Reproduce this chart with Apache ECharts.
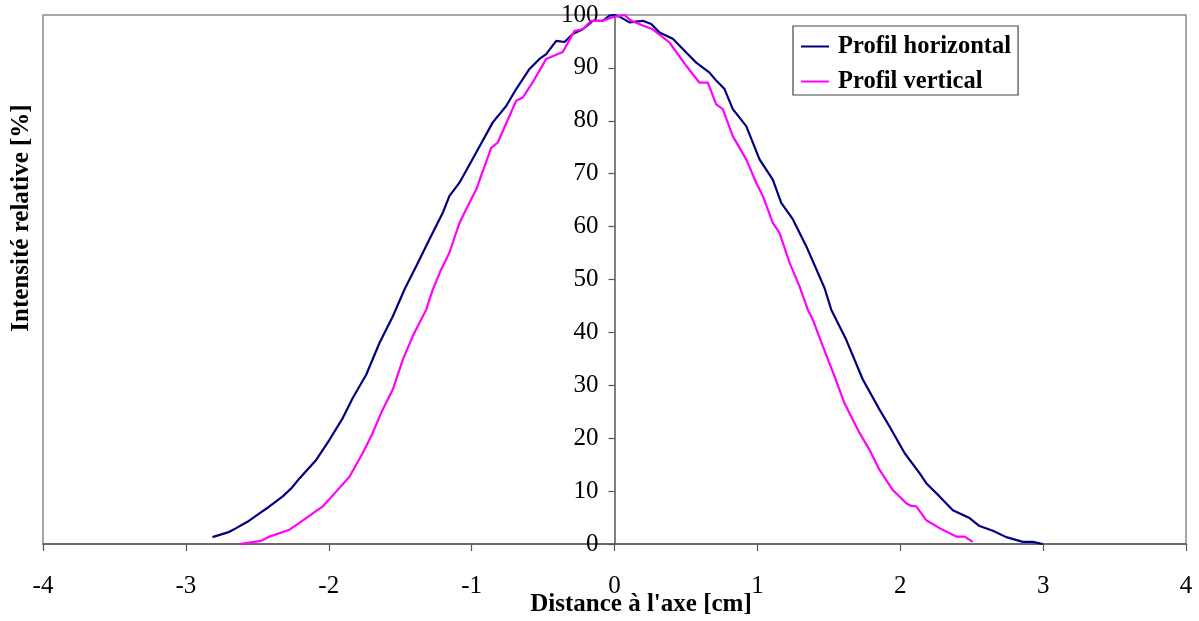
<!DOCTYPE html>
<html>
<head>
<meta charset="utf-8">
<script src="https://cdn.jsdelivr.net/npm/echarts@6/dist/echarts.min.js"></script>
<style>
  html, body { margin: 0; padding: 0; background: #fff; }
  #chart { width: 1199px; height: 621px; }
</style>
</head>
<body>
<div id="chart"></div>
<script>
// Profil horizontal: [distance (cm), intensité (%)]
const profilHorizontal = [
  [-2.814, 1.3], [-2.695, 2.3], [-2.648, 3.0], [-2.569, 4.2], [-2.485, 5.8],
  [-2.420, 7.0], [-2.322, 9.0], [-2.260, 10.6], [-2.205, 12.4], [-2.088, 15.9],
  [-1.995, 19.7], [-1.902, 23.8], [-1.832, 27.6], [-1.738, 32.0], [-1.645, 38.0],
  [-1.552, 43.0], [-1.470, 48.1], [-1.435, 50.0], [-1.388, 52.5], [-1.295, 57.6],
  [-1.202, 62.6], [-1.155, 65.8], [-1.085, 68.3], [-0.968, 74.0], [-0.852, 79.7],
  [-0.758, 82.8], [-0.688, 86.0], [-0.595, 89.8], [-0.525, 91.7], [-0.478, 92.6],
  [-0.408, 95.1], [-0.350, 94.9], [-0.292, 96.4], [-0.222, 97.3], [-0.152, 98.9],
  [-0.082, 98.9], [-0.035, 99.9], [0.000, 100.0], [0.035, 99.7], [0.105, 98.6],
  [0.198, 98.9], [0.257, 98.3], [0.315, 96.7], [0.408, 95.5], [0.502, 92.9],
  [0.572, 91.0], [0.665, 89.1], [0.712, 87.6], [0.770, 86.0], [0.828, 82.2],
  [0.922, 79.0], [1.015, 72.7], [1.108, 68.9], [1.167, 64.5], [1.248, 61.4],
  [1.342, 56.3], [1.470, 48.4], [1.517, 44.3], [1.622, 38.6], [1.738, 31.1],
  [1.855, 25.4], [1.925, 22.2], [2.030, 17.2], [2.135, 13.4], [2.182, 11.5],
  [2.275, 9.0], [2.368, 6.4], [2.485, 4.9], [2.555, 3.4], [2.648, 2.5],
  [2.742, 1.3], [2.858, 0.4], [2.928, 0.4], [2.998, 0.0]
];

// Profil vertical: [distance (cm), intensité (%)]
const profilVertical = [
  [-2.624, 0.0], [-2.473, 0.6], [-2.415, 1.4], [-2.275, 2.7], [-2.205, 4.0],
  [-2.112, 5.8], [-2.042, 7.1], [-1.948, 9.9], [-1.855, 12.7], [-1.762, 17.2],
  [-1.692, 21.0], [-1.633, 24.8], [-1.552, 29.2], [-1.482, 34.8], [-1.412, 39.3],
  [-1.318, 44.3], [-1.272, 48.1], [-1.213, 51.9], [-1.155, 55.1], [-1.085, 60.7],
  [-1.038, 63.3], [-0.968, 67.0], [-0.863, 74.9], [-0.817, 75.9], [-0.688, 83.8],
  [-0.642, 84.4], [-0.572, 87.3], [-0.478, 91.7], [-0.362, 93.0], [-0.280, 97.0],
  [-0.222, 97.3], [-0.163, 98.9], [-0.082, 98.9], [-0.012, 99.6], [0.070, 100.0],
  [0.117, 98.9], [0.198, 98.0], [0.268, 97.3], [0.385, 94.8], [0.502, 90.4],
  [0.595, 87.2], [0.653, 87.2], [0.712, 83.1], [0.758, 82.2], [0.828, 77.1],
  [0.922, 72.7], [0.992, 68.3], [1.038, 65.8], [1.108, 60.7], [1.155, 58.8],
  [1.225, 53.2], [1.295, 48.7], [1.353, 44.3], [1.388, 42.4], [1.458, 37.4],
  [1.540, 31.7], [1.610, 26.6], [1.715, 21.0], [1.785, 17.8], [1.855, 14.0],
  [1.948, 10.2], [2.042, 7.7], [2.077, 7.2], [2.112, 7.1], [2.182, 4.5],
  [2.275, 3.0], [2.392, 1.4], [2.450, 1.4], [2.508, 0.4]
];

const seriesNames = ['Profil horizontal', 'Profil vertical'];
const xAxisTitle = "Distance à l'axe [cm]";
const yAxisTitle = 'Intensité relative [%]';

const serif = '"Liberation Serif", "Times New Roman", serif';

const W = 1199, H = 621;
const gridLeft = 43, gridRight = 13;
// horizontal offset that brings the value axis onto x = 0
const plotWidth = W - gridLeft - gridRight;
const yAxisShift = -(plotWidth / 2);

const chart = echarts.init(document.getElementById('chart'), null, { renderer: 'canvas' });

chart.setOption({
  animation: false,
  backgroundColor: '#ffffff',
  grid: {
    left: gridLeft, right: gridRight, top: 15, bottom: 77,
    show: true, borderColor: '#8a8a8a', borderWidth: 1.5, backgroundColor: 'transparent'
  },
  legend: {
    orient: 'vertical',
    left: 793, top: 26,
    padding: [8, 7, 1, 8],
    itemGap: 10,
    itemWidth: 28, itemHeight: 2,
    icon: 'rect',
    borderColor: '#444', borderWidth: 1.2,
    backgroundColor: '#fff',
    textStyle: { fontFamily: serif, fontWeight: 'bold', fontSize: 24.5, lineHeight: 25, color: '#000', padding: [0, 0, 0, 4] },
    data: seriesNames
  },
  xAxis: {
    type: 'value',
    min: -4, max: 4, interval: 1,
    axisLine: { onZero: false, lineStyle: { color: '#555', width: 1.5 } },
    axisTick: { show: true, length: 7, inside: false, lineStyle: { color: '#555', width: 1.2 } },
    splitLine: { show: false },
    axisLabel: { fontFamily: serif, fontSize: 25, color: '#000', margin: 30 }
  },
  yAxis: {
    type: 'value',
    position: 'left',
    offset: yAxisShift,
    min: 0, max: 100, interval: 10,
    axisLine: { show: true, onZero: false, lineStyle: { color: '#555', width: 1.5 } },
    axisTick: { show: true, length: 6, lineStyle: { color: '#555', width: 1.2 } },
    splitLine: { show: false },
    axisLabel: { fontFamily: serif, fontSize: 25, color: '#000', margin: 16, padding: [5, 0, 0, 0] }
  },
  graphic: [
    {
      type: 'text',
      x: 641, y: 605,
      style: { text: xAxisTitle, font: 'bold 25px ' + serif, fill: '#000', textAlign: 'center', textVerticalAlign: 'middle' }
    },
    {
      type: 'text',
      x: 22, y: 218,
      rotation: Math.PI / 2,
      style: { text: yAxisTitle, font: 'bold 25px ' + serif, fill: '#000', textAlign: 'center', textVerticalAlign: 'middle' }
    }
  ],
  series: [
    {
      name: seriesNames[0], type: 'line', data: profilHorizontal,
      showSymbol: false, symbol: 'none', z: 3,
      lineStyle: { color: '#000080', width: 2.2 }, itemStyle: { color: '#000080' }
    },
    {
      name: seriesNames[1], type: 'line', data: profilVertical,
      showSymbol: false, symbol: 'none', z: 4,
      lineStyle: { color: '#ff00ff', width: 2.2 }, itemStyle: { color: '#ff00ff' }
    }
  ]
});
</script>
</body>
</html>
